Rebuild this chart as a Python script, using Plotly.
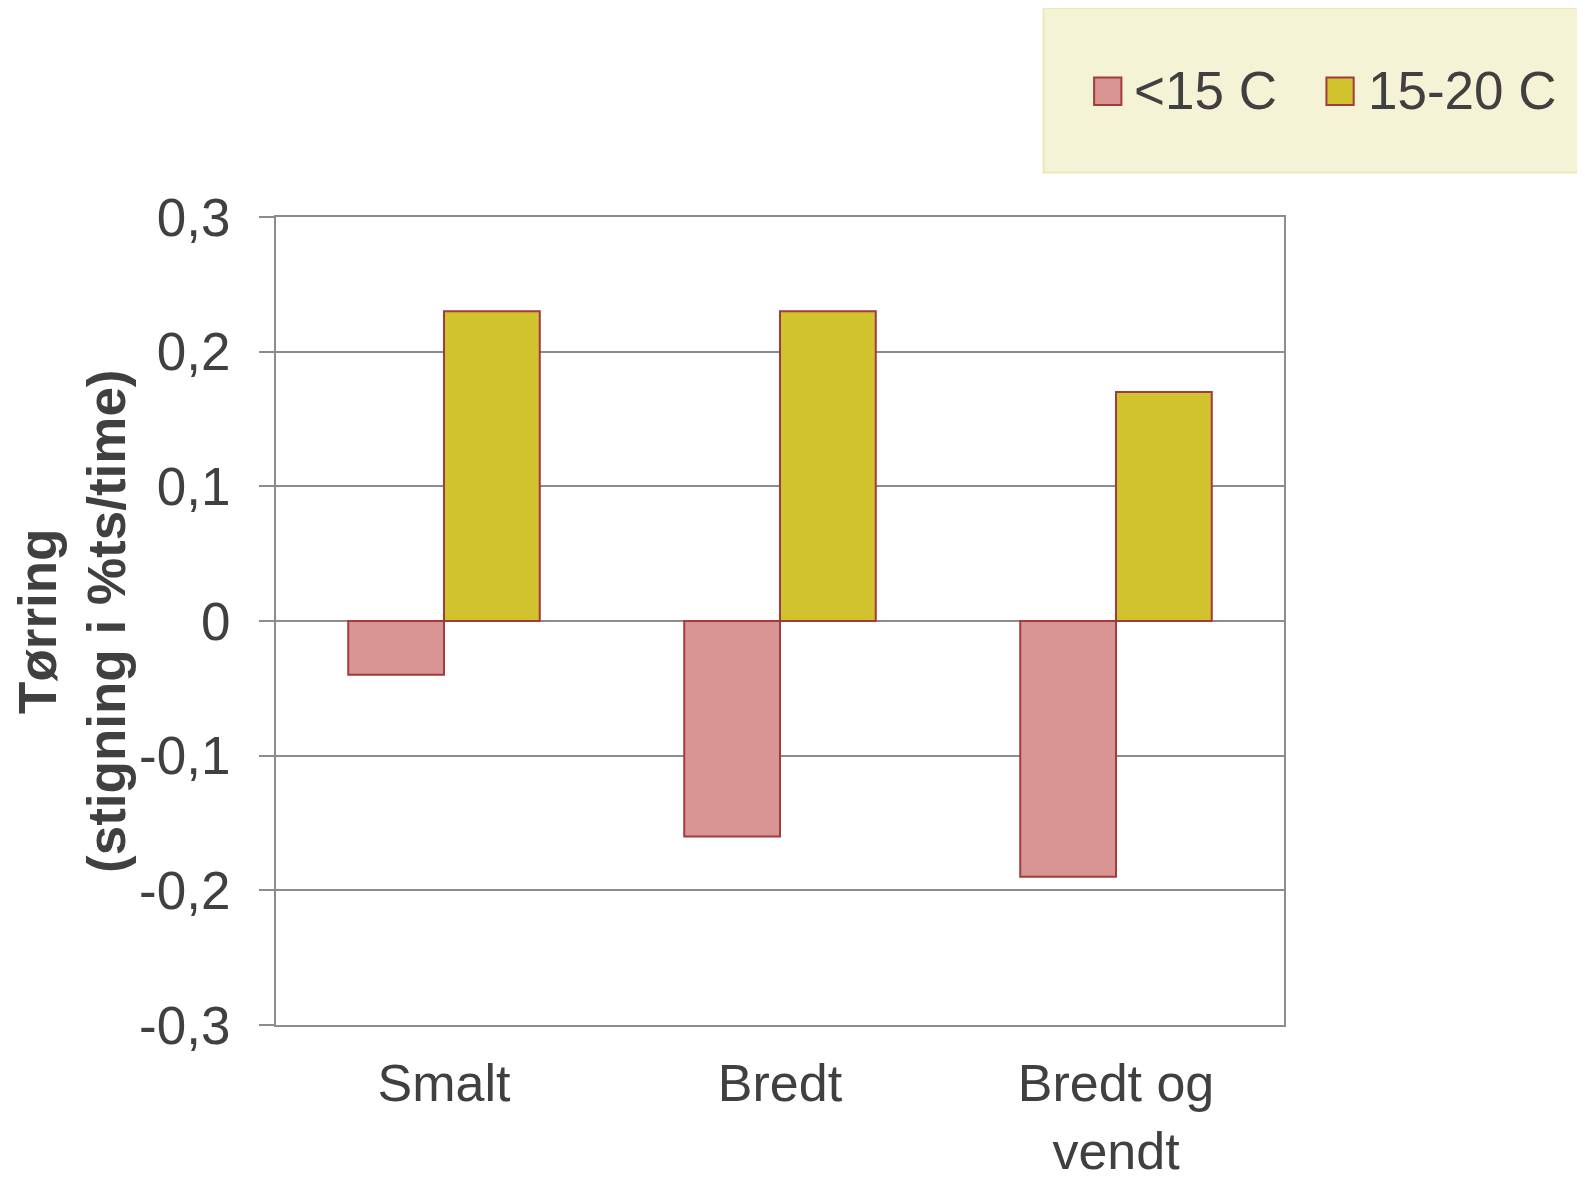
import plotly.graph_objects as go

categories = ["Smalt", "Bredt", "Bredt og<br>vendt"]
series_names = ["<15 C", "15-20 C"]
series_colors = ["#d99594", "#d0c32e"]
under15 = [-0.04, -0.16, -0.19]
s15_20 = [0.23, 0.23, 0.17]
y_ticks = [-0.3, -0.2, -0.1, 0, 0.1, 0.2, 0.3]
y_tick_text = ["-0,3", "-0,2", "-0,1", "0", "0,1", "0,2", "0,3"]

FONT = "Liberation Sans, Arial, sans-serif"
TXT = "#404040"
EDGE = "#a23b3b"
W, H = 1585, 1182
S, OFF = 0.99, 7.92


def lp(t):
    # target screen pixel -> layout pixel
    return (t - OFF) / S


L = lp(273)
R = W - lp(1271)
T = lp(215)
B = H - lp(1015)
PW = W - L - R
PH = H - T - B


def px(t):
    return (lp(t) - L) / PW


def py(t):
    return (H - B - lp(t)) / PH


fig = go.Figure()
fig.add_trace(go.Bar(x=categories, y=under15, name=series_names[0], showlegend=False,
                     marker=dict(color=series_colors[0], line=dict(color=EDGE, width=2))))
fig.add_trace(go.Bar(x=categories, y=s15_20, name=series_names[1], showlegend=False,
                     marker=dict(color=series_colors[1], line=dict(color=EDGE, width=2))))

shapes = [dict(type="rect", xref="paper", yref="paper",
               x0=px(1033), x1=px(1568), y0=py(171), y1=py(8),
               fillcolor="#f5f3d6", line=dict(color="#ede8b4", width=2), layer="below")]
annotations = []
sq_x = [1083, 1313]
txt_x = [1121, 1352]
for i, name in enumerate(series_names):
    shapes.append(dict(type="rect", xref="paper", yref="paper",
                       x0=px(sq_x[i]), x1=px(sq_x[i] + 27), y0=py(104), y1=py(77),
                       fillcolor=series_colors[i], line=dict(color=EDGE, width=2)))
    annotations.append(dict(text=name, xref="paper", yref="paper", x=px(txt_x[i]), y=py(90),
                            xanchor="left", yanchor="middle", showarrow=False,
                            font=dict(size=53, color=TXT, family=FONT)))
annotations.append(dict(text="<b>Tørring<br>(stigning i %ts/time)</b>", xref="paper", yref="paper",
                        x=px(71), y=py(615), xanchor="center", yanchor="middle",
                        textangle=-90, showarrow=False,
                        font=dict(size=53, color=TXT, family=FONT)))

fig.update_layout(
    width=W, height=H,
    margin=dict(l=L, r=R, t=T, b=B, autoexpand=False),
    paper_bgcolor="white", plot_bgcolor="white",
    barmode="group", bargap=0.43, bargroupgap=0,
    font=dict(family=FONT, size=53, color=TXT),
    showlegend=False,
    shapes=shapes,
    annotations=annotations,
)
fig.update_yaxes(range=[-0.3, 0.3], tickvals=y_ticks, ticktext=y_tick_text,
                 showgrid=True, gridcolor="#8c8c8c", gridwidth=2,
                 zeroline=True, zerolinecolor="#8c8c8c", zerolinewidth=2,
                 showline=True, linecolor="#8c8c8c", linewidth=2, mirror=True,
                 ticks="outside", ticklen=15, tickcolor="#8c8c8c", tickwidth=2,
                 ticklabelstandoff=18, automargin=False)
fig.update_xaxes(showline=True, linecolor="#8c8c8c", linewidth=2, mirror=True,
                 ticks="", ticklabelstandoff=12, automargin=False,
                 tickfont=dict(size=52))

fig.write_html("out.html")
